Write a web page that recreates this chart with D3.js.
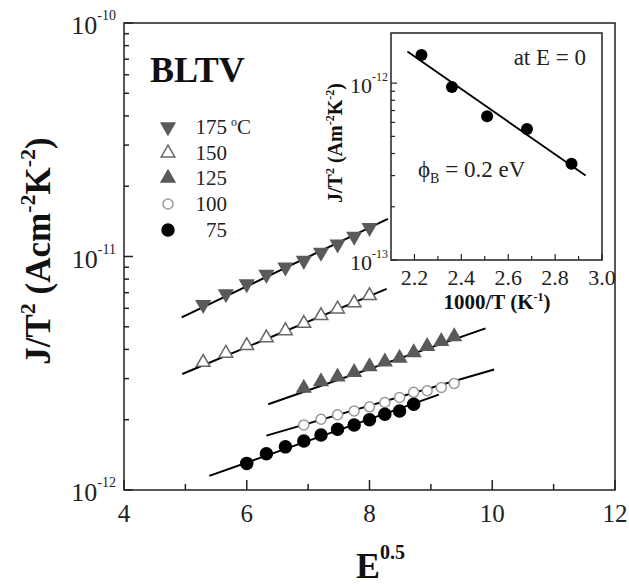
<!DOCTYPE html>
<html lang="en">
<head>
<meta charset="UTF-8">
<title>BLTV J/T2 vs E^0.5</title>
<script src="https://d3js.org/d3.v7.min.js"></script>
<style>
  body { margin: 0; background: #fff; }
  svg { display: block; font-family: "Liberation Serif", "DejaVu Serif", serif; }
</style>
</head>
<body>
<svg id="chart"></svg>
<script>
// main plot: sqrt(E) values per temperature
const temps = ["175", "150", "125", "100", "75"];
const x175 = [5.29, 5.66, 6.0, 6.32, 6.63, 6.93, 7.21, 7.48, 7.75, 8.0];
const y175 = [6.22e-12, 6.92e-12, 7.63e-12, 8.37e-12, 9.0e-12, 9.61e-12, 1.04e-11, 1.13e-11, 1.22e-11, 1.33e-11];
const x150 = [5.29, 5.66, 6.0, 6.32, 6.63, 6.93, 7.21, 7.48, 7.75, 8.0];
const y150 = [3.52e-12, 3.85e-12, 4.15e-12, 4.48e-12, 4.81e-12, 5.17e-12, 5.58e-12, 5.96e-12, 6.33e-12, 6.8e-12];
const x125 = [6.93, 7.21, 7.48, 7.75, 8.0, 8.25, 8.49, 8.72, 8.94, 9.17, 9.38];
const y125 = [2.73e-12, 2.91e-12, 3.05e-12, 3.19e-12, 3.38e-12, 3.54e-12, 3.67e-12, 3.88e-12, 4.12e-12, 4.33e-12, 4.54e-12];
const x100 = [6.93, 7.21, 7.48, 7.75, 8.0, 8.25, 8.49, 8.72, 8.94, 9.17, 9.38];
const y100 = [1.9e-12, 2.01e-12, 2.1e-12, 2.18e-12, 2.27e-12, 2.37e-12, 2.49e-12, 2.62e-12, 2.66e-12, 2.75e-12, 2.86e-12];
const x75 = [6.0, 6.32, 6.63, 6.93, 7.21, 7.48, 7.75, 8.0, 8.25, 8.49, 8.72];
const y75 = [1.3e-12, 1.43e-12, 1.53e-12, 1.62e-12, 1.72e-12, 1.82e-12, 1.9e-12, 2.0e-12, 2.11e-12, 2.18e-12, 2.33e-12];

// fitted lines (end points)
const fit175 = [[4.94, 5.49e-12], [8.3, 1.45e-11]];
const fit150 = [[4.95, 3.14e-12], [8.28, 7.27e-12]];
const fit125 = [[6.35, 2.33e-12], [9.89, 4.92e-12]];
const fit100 = [[6.32, 1.71e-12], [10.03, 3.28e-12]];
const fit75 = [[5.39, 1.15e-12], [9.13, 2.56e-12]];

// inset: Richardson-Schottky at E = 0
const invT = [2.23, 2.36, 2.51, 2.68, 2.87];
const j0 = [1.44e-12, 0.95e-12, 0.65e-12, 0.55e-12, 0.35e-12];
const fitInset = [[2.17, 1.51e-12], [2.93, 0.3e-12]];

const W = 629, H = 585;
const svg = d3.select("#chart").attr("width", W).attr("height", H);
svg.append("rect").attr("width", W).attr("height", H).attr("fill", "#fff");

const x = d3.scaleLinear().domain([4, 12]).range([124, 615]);
const y = d3.scaleLog().domain([1e-12, 1e-10]).range([490, 23]);

const series = [
  {xs: x175, ys: y175, fit: fit175, shape: "down", fill: "#5a5a5a", stroke: "#5a5a5a"},
  {xs: x150, ys: y150, fit: fit150, shape: "up", fill: "#fff", stroke: "#666"},
  {xs: x125, ys: y125, fit: fit125, shape: "up", fill: "#5a5a5a", stroke: "#5a5a5a"},
  {xs: x100, ys: y100, fit: fit100, shape: "circle", fill: "#fff", stroke: "#999"},
  {xs: x75, ys: y75, fit: fit75, shape: "dot", fill: "#000", stroke: "#000"}
];

function marker(g, s, px, py) {
  let m;
  if (s.shape === "up" || s.shape === "down") {
    m = g.append("path")
      .attr("d", d3.symbol(d3.symbolTriangle, 80)())
      .attr("transform", `translate(${px},${py})` + (s.shape === "down" ? " rotate(180)" : ""));
  } else {
    m = g.append("circle").attr("cx", px).attr("cy", py)
      .attr("r", s.shape === "dot" ? 6 : 5);
  }
  m.attr("fill", s.fill).attr("stroke", s.stroke).attr("stroke-width", 1.5);
}

// frame
svg.append("rect").attr("x", 124).attr("y", 23).attr("width", 491).attr("height", 467)
  .attr("fill", "none").attr("stroke", "#222").attr("stroke-width", 1.5);

// x ticks (inward)
const gx = svg.append("g").attr("stroke", "#222").attr("stroke-width", 1.5);
d3.range(4, 13, 1).forEach(v => {
  const major = v % 2 === 0;
  gx.append("line").attr("x1", x(v)).attr("x2", x(v))
    .attr("y1", 490).attr("y2", 490 - (major ? 10 : 6));
});
svg.append("g").selectAll("text").data(d3.range(4, 13, 2)).join("text")
  .attr("x", d => x(d)).attr("y", 522).attr("text-anchor", "middle")
  .attr("font-size", 25).attr("fill", "#222").text(d => d);

// y ticks (inward)
const gy = svg.append("g").attr("stroke", "#222").attr("stroke-width", 1.5);
y.ticks().forEach(v => {
  const major = Math.abs(Math.log10(v) - Math.round(Math.log10(v))) < 1e-6;
  gy.append("line").attr("x1", 124).attr("x2", 124 + (major ? 9 : 5))
    .attr("y1", y(v)).attr("y2", y(v));
});
[-12, -11, -10].forEach(p => {
  const t = svg.append("text").attr("x", 116).attr("y", y(Math.pow(10, p)) + 11)
    .attr("text-anchor", "end").attr("fill", "#222").attr("font-size", 26);
  t.append("tspan").text("10");
  t.append("tspan").attr("font-size", 14).attr("dy", -14).text(String(p));
});

// fit lines and markers
const line = d3.line().x(d => x(d[0])).y(d => y(d[1]));
const plot = svg.append("g");
series.forEach(s => {
  plot.append("path").attr("d", line(s.fit)).attr("stroke", "#000")
    .attr("stroke-width", 2).attr("fill", "none");
});
series.forEach(s => {
  s.xs.forEach((v, i) => marker(plot, s, x(v), y(s.ys[i])));
});

// axis titles
const yl = svg.append("text").attr("transform", "translate(50,251) rotate(-90)")
  .attr("text-anchor", "middle").attr("font-weight", "bold").attr("font-size", 35).attr("fill", "#111");
yl.append("tspan").text("J/T");
yl.append("tspan").attr("font-size", 22).attr("dy", -15).text("2");
yl.append("tspan").attr("dy", 15).text(" (Acm");
yl.append("tspan").attr("font-size", 22).attr("dy", -15).text("-2");
yl.append("tspan").attr("dy", 15).text("K");
yl.append("tspan").attr("font-size", 22).attr("dy", -15).text("-2");
yl.append("tspan").attr("dy", 15).text(")");

const xl = svg.append("text").attr("x", 356).attr("y", 578)
  .attr("font-weight", "bold").attr("font-size", 36).attr("fill", "#111");
xl.append("tspan").text("E");
xl.append("tspan").attr("font-size", 20).attr("dy", -19).text("0.5");

// sample name and legend
svg.append("text").attr("x", 150).attr("y", 82).attr("font-weight", "bold")
  .attr("font-size", 36).attr("fill", "#111").text("BLTV");

const legY = [127, 153, 178, 204, 230];
series.forEach((s, i) => {
  marker(svg, s, 168, legY[i]);
  svg.append("text").attr("x", 227).attr("y", legY[i] + 7)
    .attr("text-anchor", "end").attr("font-size", 21).attr("fill", "#222").text(temps[i]);
  if (i === 0) {
    const u = svg.append("text").attr("x", 231).attr("y", legY[i] + 7)
      .attr("font-size", 21).attr("fill", "#222");
    u.append("tspan").attr("font-size", 12).attr("dy", -8).text("o");
    u.append("tspan").attr("dy", 8).text("C");
  }
});

// inset
const xi = d3.scaleLinear().domain([2.1, 3.0]).range([391, 602]);
const yi = d3.scaleLog().domain([1e-13, 1.92e-12]).range([260, 33]);
const inset = svg.append("g");
inset.append("rect").attr("x", 391).attr("y", 33).attr("width", 211).attr("height", 227)
  .attr("fill", "#fff").attr("stroke", "#222").attr("stroke-width", 1.5);

d3.range(2.2, 3.01, 0.1).forEach((v, i) => {
  const major = i % 2 === 0;
  inset.append("line").attr("x1", xi(v)).attr("x2", xi(v))
    .attr("y1", 260).attr("y2", 260 - (major ? 6 : 4))
    .attr("stroke", "#222").attr("stroke-width", 1.2);
});
inset.selectAll("text.xt").data([2.2, 2.4, 2.6, 2.8, 3.0]).join("text")
  .attr("class", "xt").attr("x", d => xi(d)).attr("y", 285)
  .attr("text-anchor", "middle").attr("font-size", 22).attr("fill", "#222")
  .text(d => d.toFixed(1));

yi.ticks().forEach(v => {
  const major = Math.abs(Math.log10(v) - Math.round(Math.log10(v))) < 1e-6;
  inset.append("line").attr("x1", 391).attr("x2", 391 + (major ? 6 : 4))
    .attr("y1", yi(v)).attr("y2", yi(v)).attr("stroke", "#222").attr("stroke-width", 1.2);
});
[-13, -12].forEach(p => {
  const t = inset.append("text").attr("x", 388).attr("y", yi(Math.pow(10, p)) + 10)
    .attr("text-anchor", "end").attr("fill", "#222").attr("font-size", 22);
  t.append("tspan").text("10");
  t.append("tspan").attr("font-size", 12).attr("dy", -12).text(String(p));
});

const li = d3.line().x(d => xi(d[0])).y(d => yi(d[1]));
inset.append("path").attr("d", li(fitInset)).attr("stroke", "#000")
  .attr("stroke-width", 1.8).attr("fill", "none");
inset.selectAll("circle").data(invT).join("circle")
  .attr("cx", d => xi(d)).attr("cy", (d, i) => yi(j0[i])).attr("r", 6).attr("fill", "#000");

inset.append("text").attr("x", 586).attr("y", 65).attr("text-anchor", "end")
  .attr("font-size", 23).attr("fill", "#222").text("at E = 0");
const phi = inset.append("text").attr("x", 418).attr("y", 177)
  .attr("font-size", 23).attr("fill", "#222");
phi.append("tspan").text("\u03d5");
phi.append("tspan").attr("font-size", 14).attr("dy", 6).text("B");
phi.append("tspan").attr("dy", -6).text(" = 0.2 eV");

const iyl = inset.append("text").attr("transform", "translate(342,143) rotate(-90)")
  .attr("text-anchor", "middle").attr("font-weight", "bold").attr("font-size", 20).attr("fill", "#111");
iyl.append("tspan").text("J/T");
iyl.append("tspan").attr("font-size", 12).attr("dy", -8).text("2");
iyl.append("tspan").attr("dy", 8).text(" (Am");
iyl.append("tspan").attr("font-size", 12).attr("dy", -8).text("-2");
iyl.append("tspan").attr("dy", 8).text("K");
iyl.append("tspan").attr("font-size", 12).attr("dy", -8).text("-2");
iyl.append("tspan").attr("dy", 8).text(")");

const ixl = inset.append("text").attr("x", 497).attr("y", 309).attr("text-anchor", "middle")
  .attr("font-weight", "bold").attr("font-size", 21).attr("fill", "#111");
ixl.append("tspan").text("1000/T (K");
ixl.append("tspan").attr("font-size", 12).attr("dy", -8).text("-1");
ixl.append("tspan").attr("dy", 8).text(")");
</script>
</body>
</html>
